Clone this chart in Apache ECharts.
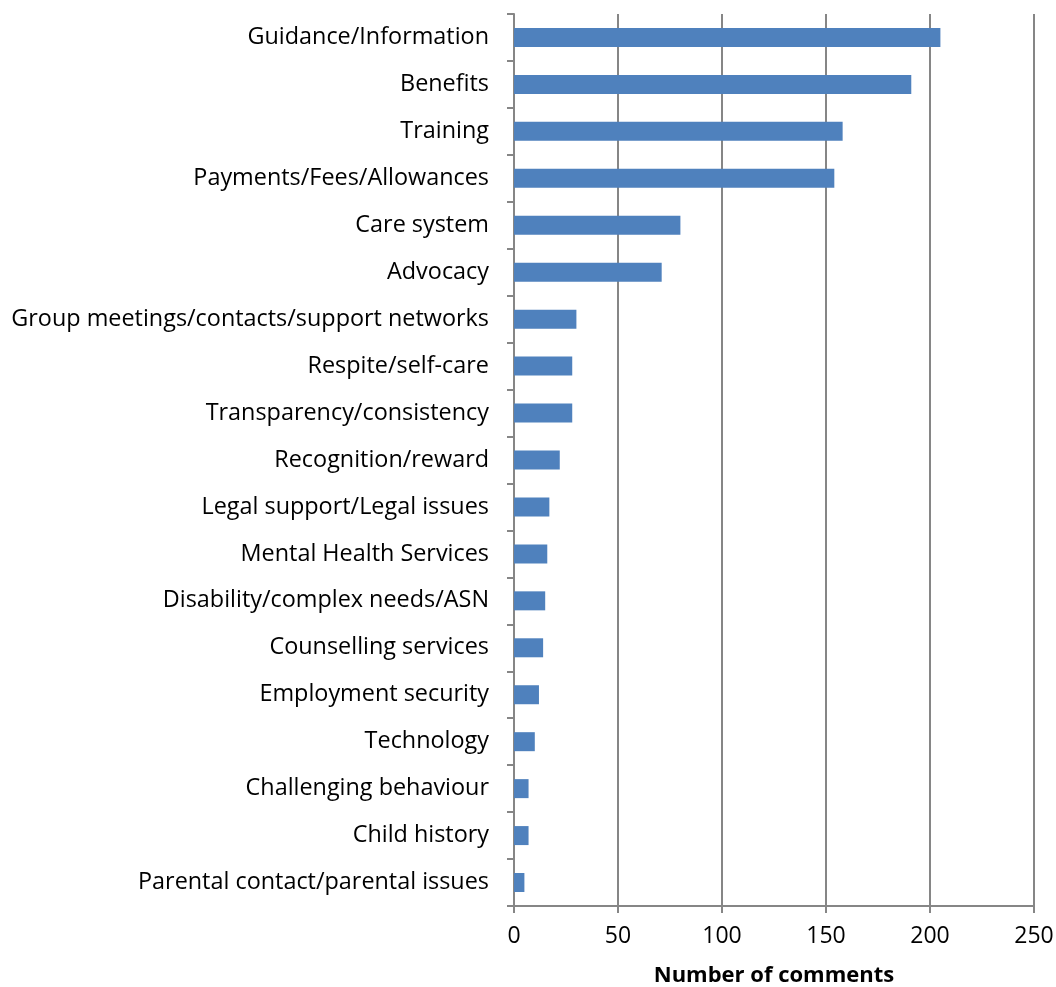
<!DOCTYPE html>
<html>
<head>
<meta charset="utf-8">
<script src="https://cdn.jsdelivr.net/npm/echarts@6/dist/echarts.min.js"></script>
<style>
html,body{margin:0;padding:0;background:#fff;}
#chart{width:1056px;height:987px;}
</style>
</head>
<body>
<div id="chart"></div>
<script>
const categories = [
  "Guidance/Information",
  "Benefits",
  "Training",
  "Payments/Fees/Allowances",
  "Care system",
  "Advocacy",
  "Group meetings/contacts/support networks",
  "Respite/self-care",
  "Transparency/consistency",
  "Recognition/reward",
  "Legal support/Legal issues",
  "Mental Health Services",
  "Disability/complex needs/ASN",
  "Counselling services",
  "Employment security",
  "Technology",
  "Challenging behaviour",
  "Child history",
  "Parental contact/parental issues"
];
const comments = [205, 191, 158, 154, 80, 71, 30, 28, 28, 22, 17, 16, 15, 14, 12, 10, 7, 7, 5];
const xTicks = [0, 50, 100, 150, 200, 250];
const xAxisTitle = "Number of comments";

const chart = echarts.init(document.getElementById('chart'));
const font = "'Open Sans', 'Liberation Sans', sans-serif";
const gray = '#868686';
chart.setOption({
  animation: false,
  backgroundColor: '#fff',
  grid: {left: 514, right: 22, top: 14, bottom: 81, containLabel: false, outerBoundsMode: 'none'},
  xAxis: {
    type: 'value',
    min: xTicks[0],
    max: xTicks[xTicks.length - 1],
    interval: 50,
    name: xAxisTitle,
    nameLocation: 'middle',
    nameGap: 59,
    nameTextStyle: {fontFamily: font, fontSize: 22, fontWeight: 'bold', color: '#000'},
    axisLine: {show: true, lineStyle: {color: gray, width: 2}},
    axisTick: {show: true, length: 7, lineStyle: {color: gray, width: 2}},
    axisLabel: {fontFamily: font, fontSize: 23, color: '#000', margin: 19},
    splitLine: {show: true, lineStyle: {color: gray, width: 2}}
  },
  yAxis: {
    type: 'category',
    data: categories,
    inverse: true,
    axisLine: {show: true, lineStyle: {color: gray, width: 2}},
    axisTick: {show: true, length: 7, alignWithLabel: false, lineStyle: {color: gray, width: 2}},
    axisLabel: {fontFamily: font, fontSize: 23.4, color: '#000', margin: 25}
  },
  series: [{
    type: 'bar',
    data: comments,
    barWidth: 19,
    itemStyle: {color: '#4F81BD'}
  }]
});
</script>
</body>
</html>
